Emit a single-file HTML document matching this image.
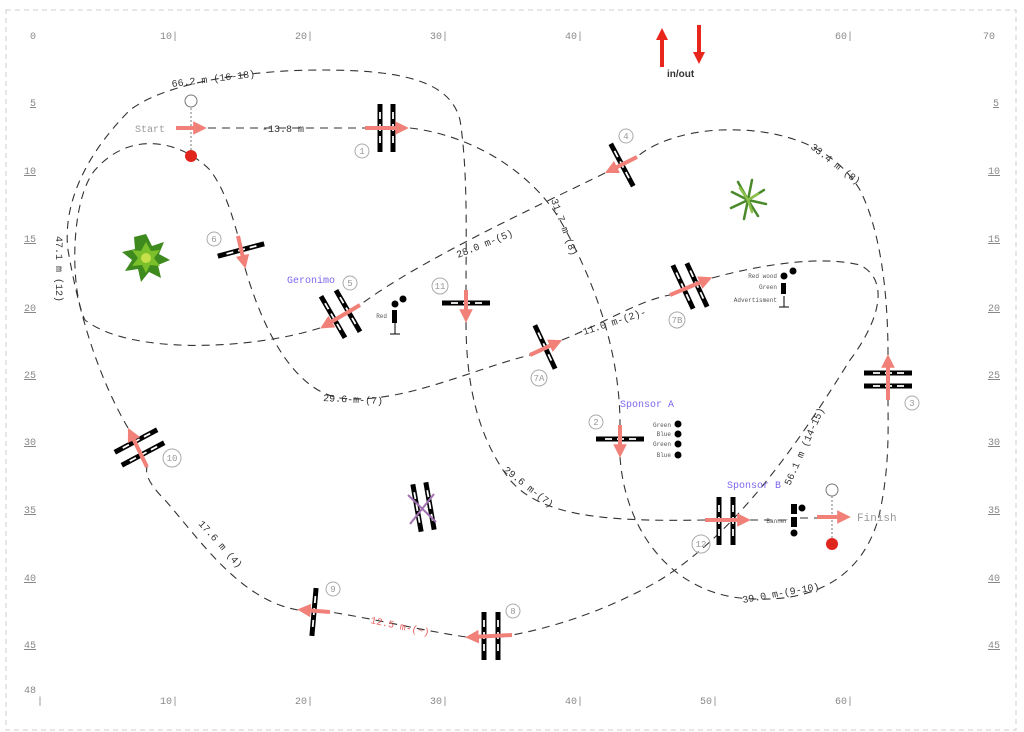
<!DOCTYPE html>
<html><head><meta charset="utf-8"><style>
html,body{margin:0;padding:0;background:#fff;}
svg{display:block;}
text{font-family:"Liberation Mono",monospace;}
</style></head><body>
<svg width="1024" height="732" viewBox="0 0 1024 732" xmlns="http://www.w3.org/2000/svg">
<defs>
<g id="bar"><line x1="0" y1="-24" x2="0" y2="24" stroke="#000" stroke-width="5"/><line x1="0" y1="-16" x2="0" y2="16" stroke="#fff" stroke-width="1.8" stroke-dasharray="7 5"/></g>
<marker id="ah" viewBox="0 0 10 10" refX="5" refY="5" markerWidth="3.4" markerHeight="3.6" orient="auto"><path d="M0,0 L10,5 L0,10 z" fill="#f08078"/></marker>
<marker id="rh" viewBox="0 0 10 10" refX="5" refY="5" markerWidth="3" markerHeight="3" orient="auto"><path d="M0,0 L10,5 L0,10 z" fill="#e8261c"/></marker>
</defs>
<rect x="0" y="0" width="1024" height="732" fill="#fff"/>
<rect x="6" y="10" width="1010" height="720" fill="none" stroke="#ccc" stroke-dasharray="5 4"/>

<g font-size="10" fill="#888">
<text x="30" y="39">0</text><text x="160" y="39">10|</text><text x="295" y="39">20|</text><text x="430" y="39">30|</text><text x="565" y="39">40|</text><text x="835" y="39">60|</text><text x="983" y="39">70</text>
<text x="160" y="704">10|</text><text x="295" y="704">20|</text><text x="430" y="704">30|</text><text x="565" y="704">40|</text><text x="700" y="704">50|</text><text x="835" y="704">60|</text>
<text x="24" y="693">48</text><text x="37" y="704">|</text>
<g text-decoration="underline">
<text x="30" y="106">5</text><text x="24" y="174">10</text><text x="24" y="242">15</text><text x="24" y="311">20</text><text x="24" y="378">25</text><text x="24" y="445">30</text><text x="24" y="513">35</text><text x="24" y="581">40</text><text x="24" y="648">45</text>
<text x="993" y="106">5</text><text x="988" y="174">10</text><text x="988" y="242">15</text><text x="988" y="311">20</text><text x="988" y="378">25</text><text x="988" y="445">30</text><text x="988" y="513">35</text><text x="988" y="581">40</text><text x="988" y="648">45</text>
</g></g>

<line x1="662" y1="67" x2="662" y2="34" stroke="#e8261c" stroke-width="4" marker-end="url(#rh)"/>
<line x1="699" y1="25" x2="699" y2="58" stroke="#e8261c" stroke-width="4" marker-end="url(#rh)"/>
<text x="667" y="77" font-size="10" font-weight="bold" fill="#333" style="font-family:'Liberation Sans',sans-serif">in/out</text>

<g fill="none" stroke="#333" stroke-width="1.1" stroke-dasharray="8 6">
<path d="M208,128 L365,128"/>
<path d="M410,128 C470,135 530,170 560,220 C600,290 620,360 620,425"/>
<path d="M620,457 C625,530 670,590 740,598 C810,605 860,580 878,520 C890,470 888,430 888,400"/>
<path d="M888,355 C888,290 880,230 860,190 C830,140 770,128 720,130 C680,132 650,145 637,157"/>
<path d="M605,173 C540,205 420,260 360,305"/>
<path d="M320,328 C250,350 130,355 85,320 C70,290 70,200 95,170 C130,130 180,140 210,170 C225,190 232,215 238,236"/>
<path d="M245,268 C260,320 290,390 340,398 C400,405 470,370 530,355"/>
<path d="M562,340 C600,325 640,300 670,295"/>
<path d="M712,278 C760,265 820,255 860,265 C890,280 880,320 850,360 C800,440 740,530 660,580 C600,615 540,630 512,635"/>
<path d="M466,637 C420,630 370,618 330,612"/>
<path d="M298,610 C240,600 200,540 165,500 C150,485 145,475 147,467"/>
<path d="M128,428 C100,380 80,320 68,250 C62,200 90,150 130,110 C170,80 260,70 320,70 C400,70 450,80 460,120 C468,170 466,240 466,290"/>
<path d="M466,322 C466,390 480,440 510,480 C540,515 600,522 705,520"/>
<path d="M750,520 L788,520"/>
<path d="M800,518 L817,518"/>
</g>
<line x1="191" y1="108" x2="191" y2="150" stroke="#777" stroke-dasharray="2 2"/>
<line x1="832" y1="496" x2="832" y2="538" stroke="#777" stroke-dasharray="2 2"/>
<circle cx="191" cy="101" r="6" fill="#fff" stroke="#777"/>
<circle cx="191" cy="156" r="6" fill="#e0261c"/>
<circle cx="832" cy="490" r="6" fill="#fff" stroke="#777"/>
<circle cx="832" cy="544" r="6" fill="#e0261c"/>

<use href="#bar" transform="translate(380,128)"/><use href="#bar" transform="translate(393,128)"/>
<use href="#bar" transform="translate(241,250) rotate(75)"/>
<use href="#bar" transform="translate(333,317) rotate(-30)"/><use href="#bar" transform="translate(348,311) rotate(-30)"/>
<use href="#bar" transform="translate(466,303) rotate(90)"/>
<use href="#bar" transform="translate(622,165) rotate(-28)"/>
<use href="#bar" transform="translate(545,347) rotate(-25)"/>
<use href="#bar" transform="translate(683,287) rotate(-25)"/><use href="#bar" transform="translate(697,285) rotate(-25)"/>
<use href="#bar" transform="translate(888,373) rotate(90)"/><use href="#bar" transform="translate(888,386) rotate(90)"/>
<use href="#bar" transform="translate(620,439) rotate(90)"/>
<use href="#bar" transform="translate(719,521)"/><use href="#bar" transform="translate(733,521)"/>
<use href="#bar" transform="translate(136,441) rotate(62)"/><use href="#bar" transform="translate(143,454) rotate(62)"/>
<use href="#bar" transform="translate(314,612) rotate(5)"/>
<use href="#bar" transform="translate(484,636)"/><use href="#bar" transform="translate(498,636)"/>
<use href="#bar" transform="translate(417,508) rotate(-10)"/><use href="#bar" transform="translate(430,506) rotate(-10)"/>
<line x1="408" y1="495" x2="436" y2="522" stroke="#a070b0" stroke-width="2"/>
<line x1="434" y1="494" x2="410" y2="524" stroke="#a070b0" stroke-width="2"/>

<g stroke="#f08078" stroke-width="4" marker-end="url(#ah)">
<line x1="176" y1="128" x2="200" y2="128"/>
<line x1="365" y1="128" x2="402" y2="128"/>
<line x1="238" y1="236" x2="244" y2="262"/>
<line x1="360" y1="305" x2="326" y2="325"/>
<line x1="466" y1="290" x2="466" y2="316"/>
<line x1="637" y1="157" x2="611" y2="170"/>
<line x1="530" y1="355" x2="556" y2="343"/>
<line x1="670" y1="295" x2="706" y2="280"/>
<line x1="888" y1="400" x2="888" y2="361"/>
<line x1="620" y1="425" x2="620" y2="451"/>
<line x1="705" y1="520" x2="744" y2="520"/>
<line x1="817" y1="517" x2="844" y2="517"/>
<line x1="147" y1="467" x2="131" y2="434"/>
<line x1="330" y1="612" x2="304" y2="610"/>
<line x1="512" y1="635" x2="472" y2="637"/>
</g>

<g font-size="9" fill="#999" text-anchor="middle">
<circle cx="362" cy="151" r="7" fill="none" stroke="#aaa"/><text x="362" y="154">1</text>
<circle cx="214" cy="239" r="7" fill="none" stroke="#aaa"/><text x="214" y="242">6</text>
<circle cx="350" cy="283" r="7" fill="none" stroke="#aaa"/><text x="350" y="286">5</text>
<circle cx="440" cy="286" r="8" fill="none" stroke="#aaa"/><text x="440" y="289">11</text>
<circle cx="626" cy="136" r="7" fill="none" stroke="#aaa"/><text x="626" y="139">4</text>
<circle cx="539" cy="378" r="8" fill="none" stroke="#aaa"/><text x="539" y="381">7A</text>
<circle cx="677" cy="320" r="8" fill="none" stroke="#aaa"/><text x="677" y="323">7B</text>
<circle cx="912" cy="403" r="7" fill="none" stroke="#aaa"/><text x="912" y="406">3</text>
<circle cx="596" cy="422" r="7" fill="none" stroke="#aaa"/><text x="596" y="425">2</text>
<circle cx="701" cy="544" r="9" fill="none" stroke="#aaa"/><text x="701" y="547">12</text>
<circle cx="172" cy="458" r="9" fill="none" stroke="#aaa"/><text x="172" y="461">10</text>
<circle cx="333" cy="589" r="7" fill="none" stroke="#aaa"/><text x="333" y="592">9</text>
<circle cx="513" cy="611" r="7" fill="none" stroke="#aaa"/><text x="513" y="614">8</text>
</g>

<g font-size="10" fill="#999">
<text x="135" y="132">Start</text>
<text x="857" y="521" font-size="11">Finish</text>
</g>
<g font-size="10" fill="#7b68ee">
<text x="287" y="283">Geronimo</text>
<text x="620" y="407">Sponsor A</text>
<text x="727" y="488">Sponsor B</text>
</g>
<g font-size="10" fill="#333">
<text x="172" y="87" transform="rotate(-7 172 87)">66.2 m (16-18)</text>
<text x="262" y="132">-13.8 m</text>
<text x="56" y="236" transform="rotate(90 56 236)">47.1 m (12)</text>
<text x="458" y="258" transform="rotate(-22 458 258)">28.0 m-(5)</text>
<text x="551" y="200" transform="rotate(70 551 200)">31.7 m (8)</text>
<text x="810" y="148" transform="rotate(38 810 148)">33.4 m (8)</text>
<text x="584" y="335" transform="rotate(-18 584 335)">11.0 m-(2)-</text>
<text x="323" y="401" transform="rotate(3 323 401)">29.6-m-(7)</text>
<text x="503" y="471" transform="rotate(38 503 471)">29.6 m-(7)</text>
<text x="790" y="486" transform="rotate(-66 790 486)">56.1 m (14-15)</text>
<text x="743" y="603" transform="rotate(-10 743 603)">39.0 m-(9-10)</text>
<text x="198" y="524" transform="rotate(48 198 524)">17.6 m (4)</text>
<text x="370" y="623" transform="rotate(12 370 623)" fill="#e86060">12.5 m-(~)</text>
</g>

<g font-size="6" fill="#555" text-anchor="end">
<text x="387" y="318">Red</text>
<text x="777" y="278">Red wood</text><text x="777" y="289">Green</text><text x="777" y="302">Advertisment</text>
<text x="671" y="427">Green</text><text x="671" y="436">Blue</text><text x="671" y="446">Green</text><text x="671" y="457">Blue</text>
<text x="788" y="523">Banner</text>
</g>
<g fill="#000">
<circle cx="395" cy="304" r="3.5"/><circle cx="403" cy="299" r="3.5"/><rect x="392" y="310" width="5" height="13"/><line x1="395" y1="323" x2="395" y2="334" stroke="#000"/><line x1="390" y1="334" x2="400" y2="334" stroke="#000"/>
<circle cx="784" cy="276" r="3.5"/><circle cx="793" cy="271" r="3.5"/><rect x="781" y="283" width="5" height="11"/><line x1="784" y1="296" x2="784" y2="307" stroke="#000"/><line x1="779" y1="307" x2="789" y2="307" stroke="#000"/>
<circle cx="678" cy="424" r="3.5"/><circle cx="678" cy="434" r="3.5"/><circle cx="678" cy="444" r="3.5"/><circle cx="678" cy="455" r="3.5"/>
<rect x="791" y="504" width="6" height="10"/><circle cx="802" cy="508" r="3.5"/><rect x="791" y="517" width="6" height="10"/><circle cx="794" cy="533" r="3.5"/>
</g>

<g transform="translate(146,258)">
<polygon points="0,-24 6,-12 18,-16 13,-4 24,2 12,7 15,20 3,14 -5,24 -8,11 -21,13 -14,2 -24,-6 -11,-9 -12,-21" fill="#3f8a1e"/>
<polygon points="0,-16 5,-7 14,-8 8,0 14,8 4,7 0,15 -4,7 -14,8 -8,0 -14,-8 -5,-7" fill="#7bbf2a"/>
<circle r="5" fill="#c6e04a"/>
</g>
<g transform="translate(748,200)" stroke="#4a8a2a" stroke-width="2.5" stroke-linecap="round">
<line x1="0" y1="0" x2="-16" y2="-8"/><line x1="0" y1="0" x2="-10" y2="-18"/><line x1="0" y1="0" x2="4" y2="-20"/><line x1="0" y1="0" x2="16" y2="-10"/><line x1="0" y1="0" x2="18" y2="4"/><line x1="0" y1="0" x2="10" y2="16"/><line x1="0" y1="0" x2="-4" y2="19"/><line x1="0" y1="0" x2="-17" y2="8"/>
<line x1="0" y1="0" x2="-8" y2="-12" stroke="#8cc04a"/><line x1="0" y1="0" x2="10" y2="-6" stroke="#8cc04a"/><line x1="0" y1="0" x2="4" y2="12" stroke="#8cc04a"/>
</g>
</svg>
</body></html>
